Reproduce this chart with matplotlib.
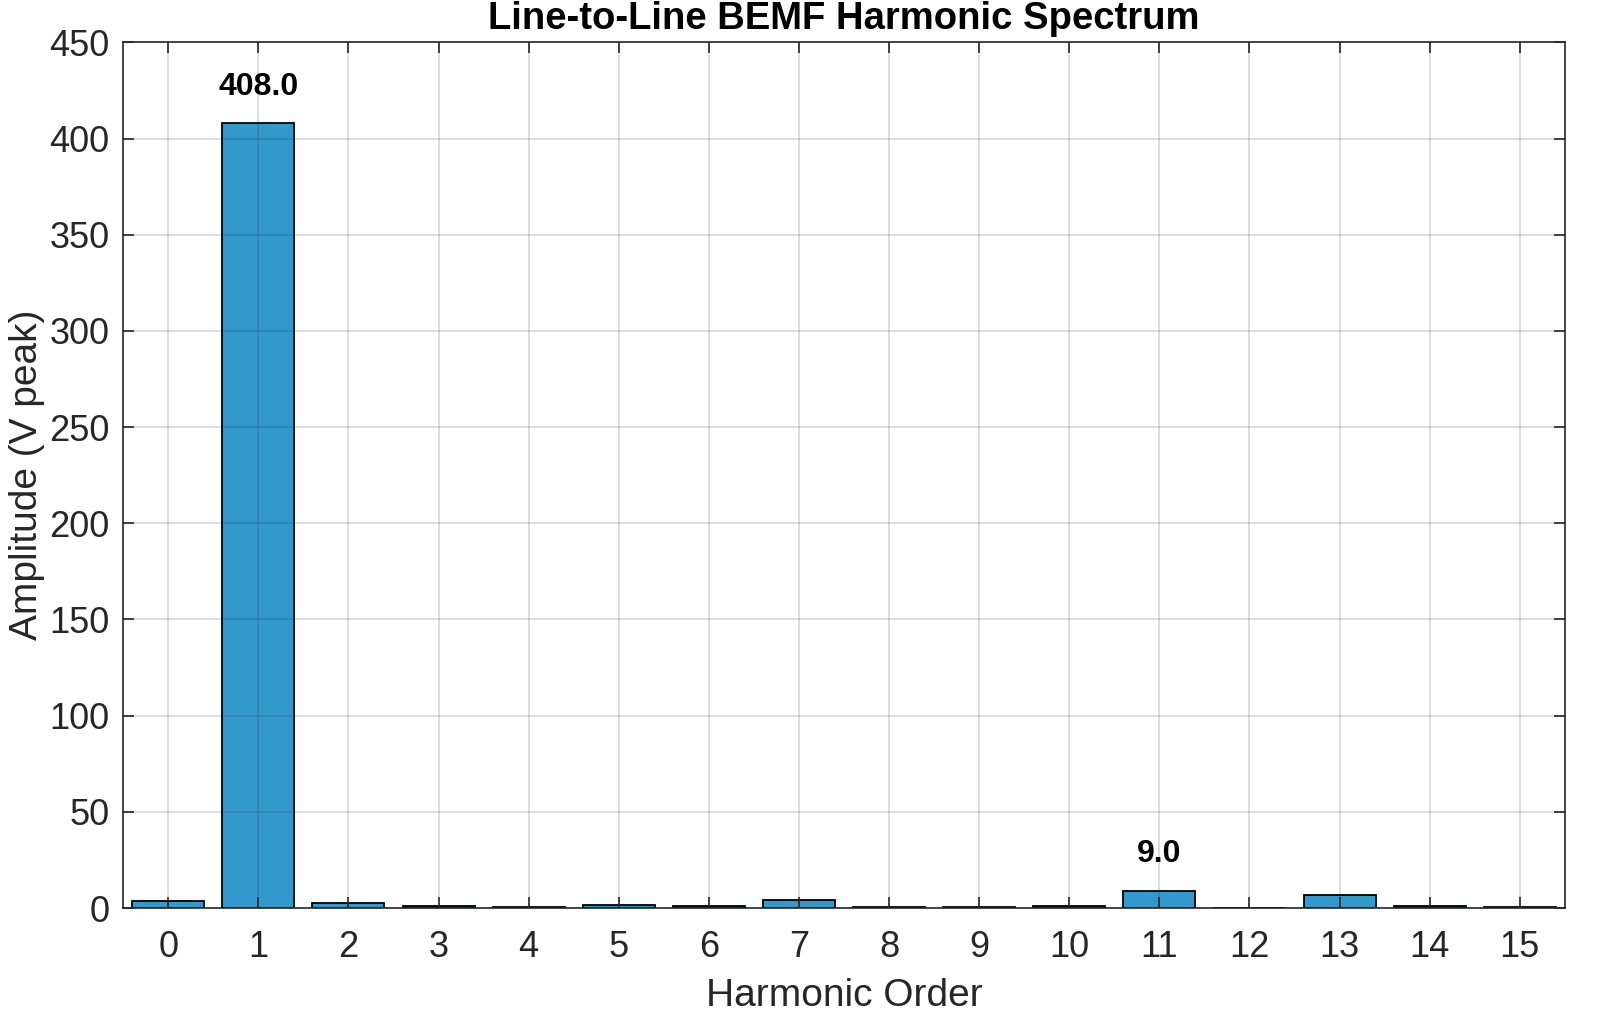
import numpy as np
import matplotlib
matplotlib.use("Agg")
from matplotlib import pyplot as plt

# harmonic spectrum values
orders = np.arange(16)
amplitude = [3.5, 408.0, 2.8, 1.2, 0.6, 1.5, 0.8, 4.2, 0.3, 0.4, 1.0, 9.0, 0.1, 7.0, 1.0, 0.4]
labelled = [1, 11]

plt.rcParams['font.family'] = ['Liberation Sans', 'DejaVu Sans']

fig = plt.figure(figsize=(16, 10.33), dpi=100)
ax = fig.add_axes([0.077, 0.121, 0.901, 0.838])

ax.bar(orders, amplitude, width=0.8, color='#3399cc', edgecolor='black', linewidth=1.3, zorder=1)
for i in labelled:
    ax.text(orders[i], amplitude[i] + 19, f"{amplitude[i]:.1f}", ha='center', va='center',
            fontsize=23, fontweight='bold', color='black', zorder=4)

ax.set_xlim(-0.5, 15.5)
ax.set_ylim(0, 450)
ax.set_xticks(orders)
ax.set_yticks(np.arange(0, 451, 50))
ax.set_axisbelow(False)
ax.grid(True, color='#262626', alpha=0.18, linewidth=1.2, zorder=2)
ax.tick_params(direction='in', length=8, width=1.2, labelsize=26, colors='#262626',
               top=True, right=True)
ax.tick_params(axis='x', pad=16)
ax.tick_params(axis='y', pad=10)
for s in ax.spines.values():
    s.set_color('#262626')
    s.set_linewidth(1.2)
    s.set_zorder(3)

ax.set_xlabel('Harmonic Order', fontsize=28, color='#262626', labelpad=9)
ax.set_ylabel('Amplitude (V peak)', fontsize=28, color='#262626', labelpad=3)
# title sits tight against the top edge like the original
fig.text(0.5275, 0.982, 'Line-to-Line BEMF Harmonic Spectrum', ha='center', va='center',
         fontsize=27.5, fontweight='bold', color='black')

fig.savefig('out.png', dpi=100)
